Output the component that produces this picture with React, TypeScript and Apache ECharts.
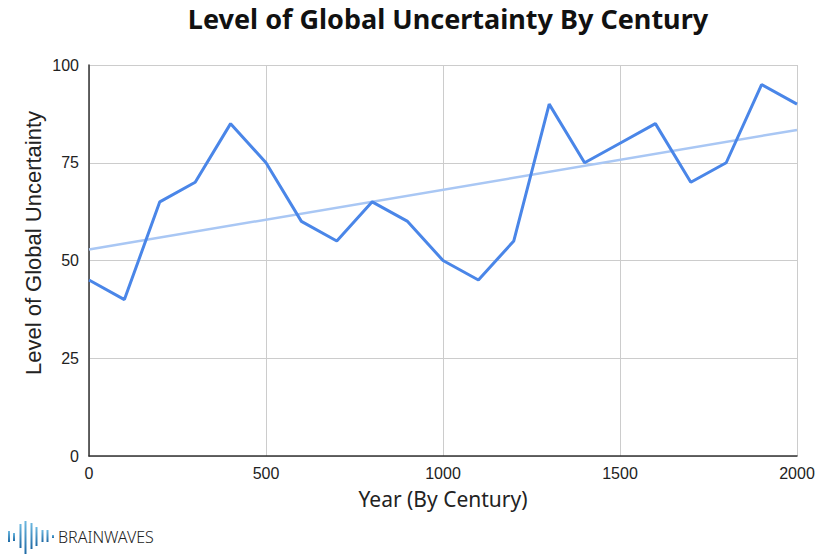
import React, { useEffect, useRef } from "react";
import * as echarts from "echarts";

const years = [0, 100, 200, 300, 400, 500, 600, 700, 800, 900, 1000, 1100, 1200, 1300, 1400, 1500, 1600, 1700, 1800, 1900, 2000];
const uncertainty = [45, 40, 65, 70, 85, 75, 60, 55, 65, 60, 50, 45, 55, 90, 75, 80, 85, 70, 75, 95, 90];
const trendYears = [0, 2000];
const trendValues = [52.8, 83.4];
const yTicks = [0, 25, 50, 75, 100];
const xTicks = [0, 500, 1000, 1500, 2000];

// logo bars: [x, top, bottom]
const logoBars = [
  [9, 531, 542],
  [14, 533, 541],
  [20.5, 524, 548],
  [25.5, 521, 554],
  [31.5, 523, 549],
  [36.5, 527, 546],
  [42.5, 530, 542],
  [47.5, 530, 542],
  [53, 535, 538],
];

export default function App() {
  const ref = useRef<HTMLDivElement>(null);
  useEffect(() => {
    if (!ref.current) return;
    const chart = echarts.init(ref.current, undefined, { renderer: "svg" });
    const grad = new echarts.graphic.LinearGradient(0, 0, 0, 1, [
      { offset: 0, color: "#6cb8e0" },
      { offset: 1, color: "#1f6aa5" },
    ]);
    chart.setOption({
      animation: false,
      backgroundColor: "#ffffff",
      title: {
        text: "Level of Global Uncertainty By Century",
        left: 443,
        textAlign: "center",
        top: 0,
        textStyle: { fontFamily: "Noto Sans", fontWeight: "bold", fontSize: 27, color: "#111" },
      },
      grid: { left: 89, top: 65, right: 35, bottom: 103, outerBoundsMode: "none", containLabel: false },
      xAxis: {
        type: "value",
        min: xTicks[0],
        max: xTicks[xTicks.length - 1],
        interval: 500,
        name: "Year (By Century)",
        nameLocation: "middle",
        nameGap: 32,
        nameTextStyle: { fontFamily: "Noto Sans", fontSize: 21, color: "#222" },
        axisLine: { show: true, lineStyle: { color: "#333", width: 1.5 } },
        axisTick: { show: false },
        axisLabel: {
          fontFamily: "Liberation Sans",
          fontSize: 16,
          color: "#222",
          margin: 9,
          formatter: (v: number) => String(v),
        },
        splitLine: { show: true, lineStyle: { color: "#cccccc", width: 1 } },
      },
      yAxis: {
        type: "value",
        min: yTicks[0],
        max: yTicks[yTicks.length - 1],
        interval: 25,
        axisLine: { show: true, lineStyle: { color: "#333", width: 1.5 } },
        axisTick: { show: false },
        axisLabel: {
          fontFamily: "Liberation Sans",
          fontSize: 16,
          color: "#222",
          margin: 10,
          formatter: (v: number) => String(v),
        },
        splitLine: { show: true, lineStyle: { color: "#cccccc", width: 1 } },
      },
      series: [
        {
          type: "line",
          data: trendYears.map((x, i) => [x, trendValues[i]]),
          symbol: "none",
          lineStyle: { color: "#a9c7f4", width: 2.5 },
          silent: true,
          z: 2,
        },
        {
          type: "line",
          data: years.map((x, i) => [x, uncertainty[i]]),
          symbol: "none",
          lineStyle: { color: "#4a86e8", width: 3 },
          z: 3,
        },
      ],
      graphic: [
        {
          type: "text",
          x: 33,
          y: 243,
          rotation: Math.PI / 2,
          style: {
            text: "Level of Global Uncertainty",
            fontFamily: "Liberation Sans",
            fontSize: 22,
            fill: "#222",
            align: "center",
            verticalAlign: "middle",
          },
        },
        ...logoBars.map(([x, t, b]) => ({
          type: "rect",
          shape: { x: x - 1, y: t, width: 2, height: b - t },
          style: { fill: grad },
        })),
        {
          type: "text",
          x: 58,
          y: 537,
          style: {
            text: "BRAINWAVES",
            fontFamily: "Noto Sans",
            fontSize: 16,
            fontWeight: 300,
            fill: "#222",
            verticalAlign: "middle",
          },
        },
      ],
    });
    return () => chart.dispose();
  }, []);
  return <div ref={ref} style={{ position: "fixed", left: 0, top: 0, width: 832, height: 559 }} />;
}
